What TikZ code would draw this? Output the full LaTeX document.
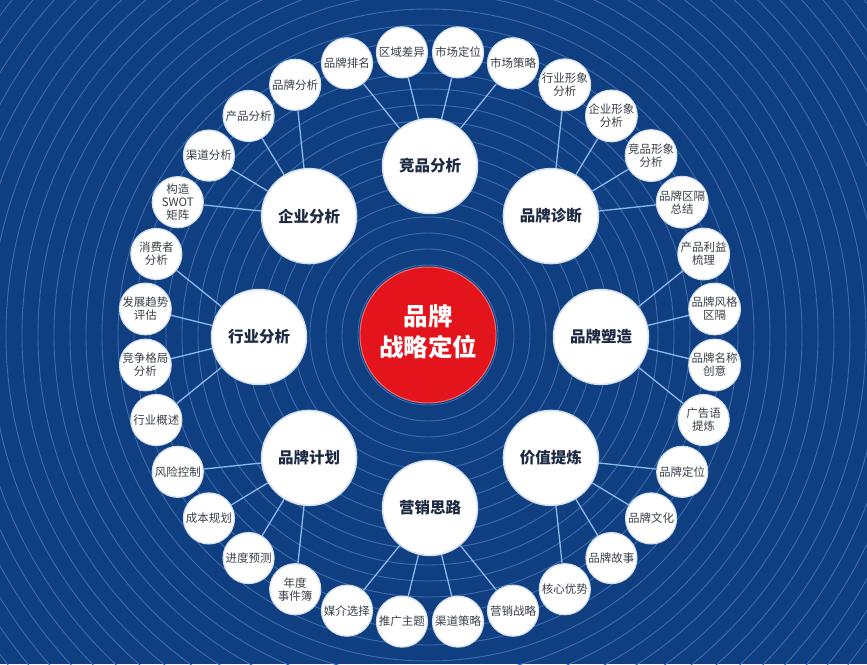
\documentclass[tikz,border=0pt]{standalone}
\usepackage{fontspec}
\setmainfont{Noto Sans CJK SC}
\usetikzlibrary{calc}
\definecolor{bg}{HTML}{0F3F80}
\definecolor{ringc}{HTML}{3A6DB0}
\definecolor{linkc}{HTML}{8DB8EC}
\definecolor{rimc}{HTML}{D3DFEE}
\definecolor{leaftxt}{HTML}{3A3F48}
\definecolor{hubtxt}{HTML}{1E2A44}
\definecolor{corec}{HTML}{E3141B}
\definecolor{corerim}{HTML}{F06A6A}
\begin{document}
\begin{tikzpicture}[x=1pt,y=1pt,
  leaf/.style={circle, fill=white, draw=rimc, line width=1.2pt, minimum size=51pt, inner sep=0pt, align=center, font=\fontsize{11.5}{13}\selectfont, text=leaftxt},
  hubnode/.style={circle, fill=white, draw=rimc, line width=1.5pt, minimum size=95pt, inner sep=0pt, font=\bfseries\fontsize{15.5}{18}\selectfont, text=hubtxt},
  corenode/.style={circle, fill=corec, draw=corerim, line width=1pt, minimum size=136pt, inner sep=0pt, font=\bfseries\fontsize{24.5}{30}\selectfont, text=white},
  linkline/.style={draw=linkc, line width=1.3pt}]
\useasboundingbox (0,0) rectangle (867,664);
\fill[bg] (0,0) rectangle (867,664);
\coordinate (C) at (430,327);
\coordinate (R) at (428,329);
\begin{scope}
  \clip (0,0) rectangle (867,664);
  \foreach \r in {70,86,...,582} \draw[ringc, line width=0.9pt] (R) circle (\r);
\end{scope}
% hubs
\foreach \j/\t in {0/品牌塑造,1/品牌诊断,2/竞品分析,3/企业分析,4/行业分析,5/品牌计划,6/营销思路,7/价值提炼}
  \node[hubnode] (h\j) at ($(C)+(45*\j:171)$) {\t};
% leaves
\foreach \i/\t in {0/{品牌风格\\区隔},1/{产品利益\\梳理},2/{品牌区隔\\总结},3/{竞品形象\\分析},
  4/{企业形象\\分析},5/{行业形象\\分析},6/市场策略,7/市场定位,8/区域差异,9/品牌排名,
  10/品牌分析,11/产品分析,12/渠道分析,13/{构造\\SWOT\\矩阵},14/{消费者\\分析},15/{发展趋势\\评估},
  16/{竞争格局\\分析},17/行业概述,18/风险控制,19/成本规划,20/进度预测,21/{年度\\事件簿},
  22/媒介选择,23/推广主题,24/渠道策略,25/营销战略,26/核心优势,27/品牌故事,28/品牌文化,
  29/品牌定位,30/{广告语\\提炼},31/{品牌名称\\创意}}
  \node[leaf] (l\i) at ($(C)+(5.625+11.25*\i:286)$) {\t};
% core
\node[corenode] (core) at (R) {\raisebox{7pt}{\begin{tabular}{@{}c@{}}品牌\\战略定位\end{tabular}}};
% links
\foreach \j in {0,...,7}
  \foreach \k in {-2,-1,0,1} {
    \pgfmathtruncatemacro\i{mod(4*\j+\k+32,32)}
    \draw[linkline] (h\j) -- (l\i);
  }
\end{tikzpicture}
\end{document}
